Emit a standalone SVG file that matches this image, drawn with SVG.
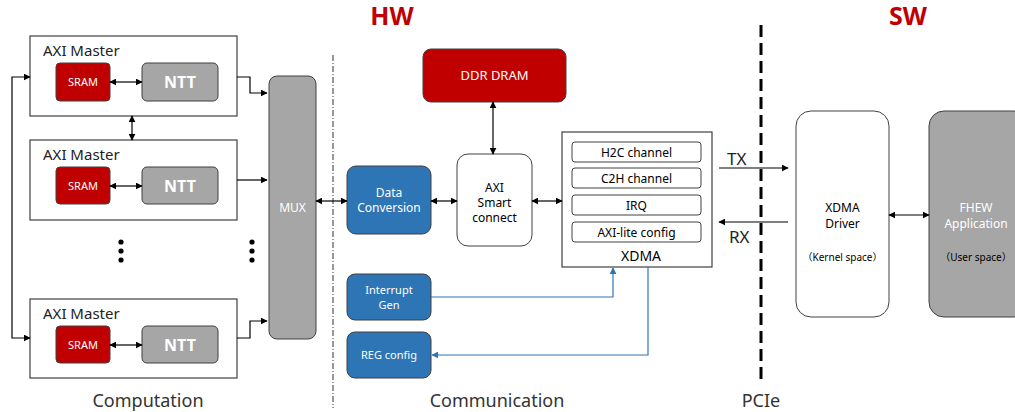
<svg xmlns="http://www.w3.org/2000/svg" width="1015" height="412" viewBox="0 0 1015 412">
<style>
text{font-family:"Noto Sans","Noto Sans CJK SC",sans-serif;}
.frame{fill:#fff;stroke:#404040;stroke-width:1.2}
.red{fill:#C00000;stroke:#404040;stroke-width:1}
.gray{fill:#A6A6A6;stroke:#404040;stroke-width:1}
.blue{fill:#2E75B6;stroke:#404040;stroke-width:1}
.wbox{fill:#fff;stroke:#404040;stroke-width:1}
.line{fill:none;stroke:#000;stroke-width:1.2}
.bl{fill:none;stroke:#2E75B6;stroke-width:1.2}
.wt{fill:#fff;text-anchor:middle}
.bt{fill:#000;text-anchor:middle}
.lbl{fill:#333;text-anchor:middle;font-size:18px}
</style>
<defs>
<marker id="ah" viewBox="0 0 10 10" refX="9" refY="5" markerWidth="7" markerHeight="7" orient="auto-start-reverse" markerUnits="userSpaceOnUse"><path d="M0,0 L10,5 L0,10 z" fill="#000"/></marker>
<marker id="ahb" viewBox="0 0 10 10" refX="9" refY="5" markerWidth="7" markerHeight="7" orient="auto-start-reverse" markerUnits="userSpaceOnUse"><path d="M0,0 L10,5 L0,10 z" fill="#2E75B6"/></marker>
</defs>
<rect width="1015" height="412" fill="#fff"/>

<text x="392" y="25" font-size="25" font-weight="bold" fill="#C00000" text-anchor="middle">HW</text>
<text x="908" y="25" font-size="25" font-weight="bold" fill="#C00000" text-anchor="middle">SW</text>

<g id="separators">
<line x1="333" y1="55" x2="333" y2="408" stroke="#333" stroke-width="1" stroke-dasharray="6,2,1,2"/>
<line x1="761" y1="25" x2="761" y2="384" stroke="#000" stroke-width="3" stroke-dasharray="12,6"/>
</g>

<g id="master1">
<rect class="frame" x="30" y="36" width="207" height="80"/>
<text x="43" y="56" font-size="15" fill="#222">AXI Master</text>
<rect class="red" x="56" y="63" width="54" height="38" rx="4"/>
<text class="wt" x="83" y="86" font-size="11">SRAM</text>
<rect class="gray" x="142" y="63" width="76" height="38" rx="5"/>
<text class="wt" x="180" y="88" font-size="16" font-weight="bold">NTT</text>
</g>
<g id="master2">
<rect class="frame" x="30" y="140" width="207" height="80"/>
<text x="43" y="160" font-size="15" fill="#222">AXI Master</text>
<rect class="red" x="56" y="167" width="54" height="37" rx="4"/>
<text class="wt" x="83" y="190" font-size="11">SRAM</text>
<rect class="gray" x="142" y="167" width="76" height="37" rx="5"/>
<text class="wt" x="180" y="192" font-size="16" font-weight="bold">NTT</text>
</g>
<g id="master3">
<rect class="frame" x="30" y="299" width="207" height="79"/>
<text x="43" y="319" font-size="15" fill="#222">AXI Master</text>
<rect class="red" x="56" y="326" width="54" height="37" rx="4"/>
<text class="wt" x="83" y="349" font-size="11">SRAM</text>
<rect class="gray" x="142" y="326" width="76" height="37" rx="5"/>
<text class="wt" x="180" y="351" font-size="16" font-weight="bold">NTT</text>
</g>
<g id="dots" fill="#000">
<circle cx="121" cy="242" r="2.6"/><circle cx="121" cy="251" r="2.6"/><circle cx="121" cy="260" r="2.6"/>
<circle cx="252" cy="242" r="2.6"/><circle cx="252" cy="251" r="2.6"/><circle cx="252" cy="260" r="2.6"/>
</g>
<g id="mux">
<rect class="gray" x="269" y="76" width="47" height="263" rx="8"/>
<text class="wt" x="292.5" y="212" font-size="12">MUX</text>
</g>
<text class="lbl" x="148" y="407">Computation</text>

<g id="ddr">
<rect class="red" x="423" y="49" width="143" height="53" rx="8"/>
<text class="wt" x="494.5" y="80" font-size="13">DDR DRAM</text>
</g>
<g id="smart">
<rect class="wbox" x="457" y="154" width="75" height="92" rx="11"/>
<text class="bt" x="494.5" y="192" font-size="12" fill="#333">AXI</text>
<text class="bt" x="494.5" y="207" font-size="12" fill="#333">Smart</text>
<text class="bt" x="494.5" y="222" font-size="12" fill="#333">connect</text>
</g>
<g id="dataconv">
<rect class="blue" x="347" y="166" width="84" height="68" rx="9"/>
<text class="wt" x="389" y="197" font-size="12">Data</text>
<text class="wt" x="389" y="212" font-size="12">Conversion</text>
</g>
<g id="intgen">
<rect class="blue" x="347" y="274" width="84" height="46" rx="8"/>
<text class="wt" x="389" y="294" font-size="11">Interrupt</text>
<text class="wt" x="389" y="309" font-size="11">Gen</text>
</g>
<g id="regcfg">
<rect class="blue" x="347" y="332" width="84" height="46" rx="8"/>
<text class="wt" x="389" y="359" font-size="11">REG config</text>
</g>
<g id="xdma">
<rect class="frame" x="562" y="132" width="150" height="135"/>
<rect class="wbox" x="572" y="142" width="129" height="20" rx="3"/>
<text class="bt" x="636.5" y="156.5" font-size="12" fill="#333">H2C channel</text>
<rect class="wbox" x="572" y="168" width="129" height="20" rx="3"/>
<text class="bt" x="636.5" y="182.5" font-size="12" fill="#333">C2H channel</text>
<rect class="wbox" x="572" y="195" width="129" height="20" rx="3"/>
<text class="bt" x="636.5" y="209.5" font-size="12" fill="#333">IRQ</text>
<rect class="wbox" x="572" y="222" width="129" height="20" rx="3"/>
<text class="bt" x="636.5" y="236.5" font-size="12" fill="#333">AXI-lite config</text>
<text class="bt" x="641" y="261" font-size="14" fill="#333">XDMA</text>
</g>
<text class="lbl" x="497" y="407">Communication</text>
<text class="lbl" x="761" y="407">PCIe</text>

<g id="driver">
<rect class="wbox" x="796" y="111" width="93" height="206" rx="15"/>
<text class="bt" x="842.5" y="212" font-size="12" fill="#333">XDMA</text>
<text class="bt" x="842.5" y="228" font-size="12" fill="#333">Driver</text>
<text class="bt" x="842.5" y="261" font-size="10" fill="#444">（Kernel space）</text>
</g>
<g id="fhew">
<rect class="gray" x="929" y="111" width="100" height="206" rx="15"/>
<text class="wt" x="976" y="212" font-size="12">FHEW</text>
<text class="wt" x="976" y="228" font-size="12">Application</text>
<text class="bt" x="976" y="261" font-size="10" fill="#333">（User space）</text>
</g>
<text x="727" y="165" font-size="17" fill="#222">TX</text>
<text x="729" y="243" font-size="17" fill="#222">RX</text>

<g id="connectors">
<line class="line" x1="110" y1="82" x2="142" y2="82" marker-start="url(#ah)" marker-end="url(#ah)"/>
<line class="line" x1="110" y1="186" x2="142" y2="186" marker-start="url(#ah)" marker-end="url(#ah)"/>
<line class="line" x1="110" y1="345" x2="142" y2="345" marker-start="url(#ah)" marker-end="url(#ah)"/>
<line class="line" x1="132" y1="116" x2="132" y2="140" marker-start="url(#ah)" marker-end="url(#ah)"/>
<polyline class="line" points="237,77 250,77 250,93 267,93" marker-end="url(#ah)"/>
<line class="line" x1="237" y1="180" x2="267" y2="180" marker-end="url(#ah)"/>
<polyline class="line" points="237,338 250,338 250,321 267,321" marker-end="url(#ah)"/>
<polyline class="line" points="30,77 12,77 12,338 30,338" marker-start="url(#ah)" marker-end="url(#ah)"/>
<line class="line" x1="316" y1="201" x2="347" y2="201" marker-start="url(#ah)" marker-end="url(#ah)"/>
<line class="line" x1="431" y1="201" x2="457" y2="201" marker-start="url(#ah)" marker-end="url(#ah)"/>
<line class="line" x1="532" y1="201" x2="562" y2="201" marker-start="url(#ah)" marker-end="url(#ah)"/>
<line class="line" x1="493" y1="102" x2="493" y2="154" marker-start="url(#ah)" marker-end="url(#ah)"/>
<line class="line" x1="719" y1="168" x2="788" y2="168" marker-end="url(#ah)"/>
<line class="line" x1="788" y1="222" x2="719" y2="222" marker-end="url(#ah)"/>
<line class="line" x1="889" y1="215" x2="929" y2="215" marker-start="url(#ah)" marker-end="url(#ah)"/>
<polyline class="bl" points="431,297 613,297 613,268" marker-end="url(#ahb)"/>
<polyline class="bl" points="648,267 648,355 432,355" marker-end="url(#ahb)"/>
</g>
</svg>
